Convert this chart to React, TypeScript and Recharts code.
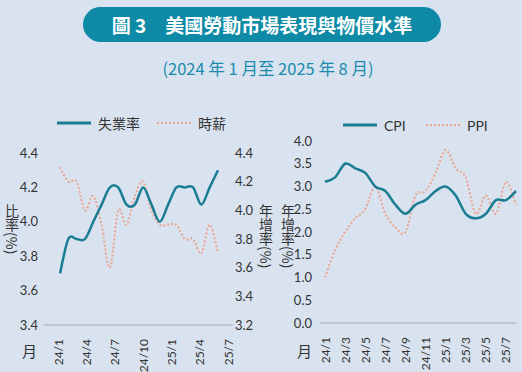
import React from 'react';
import { LineChart, Line, XAxis, YAxis } from 'recharts';

// 2024/1 ~ 2025/8, monthly
const months = [
  '24/1', '24/2', '24/3', '24/4', '24/5', '24/6', '24/7', '24/8', '24/9', '24/10',
  '24/11', '24/12', '25/1', '25/2', '25/3', '25/4', '25/5', '25/6', '25/7', '25/8',
];

// left panel (%)
const unemployment = [3.7, 3.9, 3.9, 3.9, 4.0, 4.1, 4.2, 4.2, 4.1, 4.1, 4.2, 4.1, 4.0, 4.1, 4.2, 4.2, 4.2, 4.1, 4.2, 4.3];
const hourlyWage = [4.3, 4.2, 4.2, 4.0, 4.1, 3.9, 3.6, 4.0, 3.9, 4.1, 4.2, 4.0, 3.9, 3.9, 3.9, 3.8, 3.8, 3.7, 3.9, 3.7];

// right panel, yoy (%)
const cpi = [3.1, 3.2, 3.5, 3.4, 3.3, 3.0, 2.9, 2.6, 2.4, 2.6, 2.7, 2.9, 3.0, 2.8, 2.4, 2.3, 2.4, 2.7, 2.7, 2.9];
const ppi = [1.0, 1.6, 2.0, 2.3, 2.5, 3.0, 2.4, 2.1, 2.0, 2.8, 2.9, 3.3, 3.8, 3.4, 3.2, 2.4, 2.8, 2.4, 3.1, 2.6];

const leftTicks = [3.4, 3.6, 3.8, 4.0, 4.2, 4.4];
const rightTicks = [3.2, 3.4, 3.6, 3.8, 4.0, 4.2, 4.4];
const cpiTicks = [0, 0.5, 1, 1.5, 2, 2.5, 3, 3.5, 4];

const BG = '#d9e3f0';
const TEAL = '#1b7d93';
const SALMON = '#eba48d';
const TXT = '#333';
const NUM_FONT = "Lato, 'Noto Sans CJK TC', sans-serif";
const CJK_FONT = "'Noto Sans CJK TC', sans-serif";

const labourData = months.map((m, i) => ({ m, u: unemployment[i], w: hourlyWage[i] }));
const priceData = months.map((m, i) => ({ m, cpi: cpi[i], ppi: ppi[i] }));

// Catmull-Rom style smoothing, closer to the spreadsheet "smoothed line" look
const smooth = (ctx: any) => {
  let pts: number[][] = [];
  return {
    areaStart() {},
    areaEnd() {},
    lineStart() {
      pts = [];
    },
    point(x: number, y: number) {
      pts.push([+x, +y]);
    },
    lineEnd() {
      if (!pts.length) return;
      ctx.moveTo(pts[0][0], pts[0][1]);
      for (let i = 0; i < pts.length - 1; i++) {
        const p0 = pts[i - 1] || pts[i];
        const p1 = pts[i];
        const p2 = pts[i + 1];
        const p3 = pts[i + 2] || p2;
        ctx.bezierCurveTo(
          p1[0] + (p2[0] - p0[0]) / 6,
          p1[1] + (p2[1] - p0[1]) / 6,
          p2[0] - (p3[0] - p1[0]) / 6,
          p2[1] - (p3[1] - p1[1]) / 6,
          p2[0],
          p2[1],
        );
      }
    },
  };
};

function RotTick(props: any) {
  const { x, y, payload, index, labelOf } = props;
  const label = labelOf ? labelOf(index) : payload.value;
  if (!label) return null;
  return (
    <text
      x={x}
      y={y + 6}
      transform={`rotate(-90 ${x} ${y + 6})`}
      textAnchor="end"
      dominantBaseline="central"
      fill={TXT}
      fontSize={12}
      fontFamily={NUM_FONT}
    >
      {label}
    </text>
  );
}

function VTitle({ text, left, top }: { text: string; left: number; top: number }) {
  return (
    <div
      style={{
        position: 'absolute',
        left,
        top,
        writingMode: 'vertical-rl',
        fontSize: 14,
        lineHeight: '16px',
        color: TXT,
        fontFamily: CJK_FONT,
      }}
    >
      {text}
    </div>
  );
}

function LegendItem({ left, top, label, dotted }: { left: number; top: number; label: string; dotted?: boolean }) {
  return (
    <div style={{ position: 'absolute', left, top, display: 'flex', alignItems: 'center', height: 20 }}>
      <svg width={36} height={6}>
        <line
          x1={1}
          x2={35}
          y1={3}
          y2={3}
          stroke={dotted ? SALMON : TEAL}
          strokeWidth={dotted ? 2 : 3}
          strokeDasharray={dotted ? '2 2' : undefined}
        />
      </svg>
      <span style={{ marginLeft: 6, fontSize: 14, color: TXT, fontFamily: /[A-Z]/.test(label) ? NUM_FONT : CJK_FONT }}>
        {label}
      </span>
    </div>
  );
}

export default function App() {
  const tickStyle = { fill: TXT, fontSize: 13, fontFamily: NUM_FONT };

  return (
    <div style={{ position: 'absolute', left: 0, top: 0, width: 522, height: 372, background: BG, overflow: 'hidden' }}>
      {/* title */}
      <div
        style={{
          position: 'absolute',
          left: 83,
          top: 7,
          width: 358,
          height: 35,
          borderRadius: 18,
          background: '#0e8aa6',
          color: '#fff',
          fontFamily: CJK_FONT,
          fontWeight: 700,
          fontSize: 19,
          lineHeight: '35px',
          textAlign: 'center',
          whiteSpace: 'pre',
        }}
      >
        {'圖 3　美國勞動市場表現與物價水準'}
      </div>
      <div
        style={{
          position: 'absolute',
          left: 0,
          width: 536,
          top: 56,
          textAlign: 'center',
          color: '#1a8bad',
          fontSize: 16.5,
          fontFamily: CJK_FONT,
        }}
      >
        (2024 年 1 月至 2025 年 8 月)
      </div>

      {/* left panel */}
      <LegendItem left={56} top={113} label="失業率" />
      <LegendItem left={156} top={113} label="時薪" dotted />
      <VTitle text="比率(%)" left={4} top={204} />
      <VTitle text="年增率(%)" left={258} top={204} />
      <div style={{ position: 'absolute', left: 22, top: 340, fontSize: 15, color: TXT, fontFamily: CJK_FONT }}>月</div>

      <div style={{ position: 'absolute', left: 0, top: 0 }}>
        <LineChart width={270} height={372} data={labourData} margin={{ top: 153, right: 0, left: 0, bottom: 0 }}>
          {/* the printed month labels sit one slot to the right of the plotted points */}
          <XAxis
            xAxisId="lab"
            dataKey="m"
            interval={0}
            padding={{ left: 4.7, right: 4.7 }}
            height={47}
            tickLine={false}
            axisLine={{ stroke: '#a9a9a9' }}
            tick={<RotTick labelOf={(i: number) => ((i - 1) % 3 === 0 ? months[i - 1] : '')} />}
          />
          <XAxis xAxisId="d" dataKey="m" hide height={0} padding={{ left: 16, right: 15 }} />
          <YAxis
            yAxisId="l"
            width={44}
            domain={[3.4, 4.4]}
            ticks={leftTicks}
            tickFormatter={(v) => Number(v).toFixed(1)}
            axisLine={false}
            tickLine={false}
            tickMargin={0}
            tick={tickStyle}
          />
          <YAxis
            yAxisId="r"
            orientation="right"
            width={37}
            domain={[3.2, 4.4]}
            ticks={rightTicks}
            tickFormatter={(v) => Number(v).toFixed(1)}
            axisLine={false}
            tickLine={false}
            tickSize={0}
            tickMargin={2}
            tick={{ ...tickStyle, textAnchor: 'start' }}
          />
          <Line
            xAxisId="d"
            yAxisId="r"
            type={smooth as any}
            dataKey="w"
            stroke={SALMON}
            strokeWidth={2}
            strokeDasharray="2 2"
            dot={false}
            isAnimationActive={false}
          />
          <Line
            xAxisId="d"
            yAxisId="l"
            type={smooth as any}
            dataKey="u"
            stroke={TEAL}
            strokeWidth={2.5}
            dot={false}
            isAnimationActive={false}
          />
        </LineChart>
      </div>

      {/* right panel */}
      <LegendItem left={342} top={115} label="CPI" />
      <LegendItem left={425} top={115} label="PPI" dotted />
      <VTitle text="年增率(%)" left={280} top={204} />
      <div style={{ position: 'absolute', left: 297, top: 340, fontSize: 15, color: TXT, fontFamily: CJK_FONT }}>月</div>

      <div style={{ position: 'absolute', left: 260, top: 0 }}>
        <LineChart width={262} height={372} data={priceData} margin={{ top: 141, right: 6, left: 0, bottom: 0 }}>
          <XAxis
            dataKey="m"
            interval={1}
            padding={{ left: 5, right: 0 }}
            height={49}
            tickLine={false}
            axisLine={{ stroke: '#a9a9a9' }}
            tick={<RotTick />}
          />
          <YAxis
            width={60}
            domain={[0, 4]}
            ticks={cpiTicks}
            tickFormatter={(v) => Number(v).toFixed(1)}
            axisLine={false}
            tickLine={false}
            tick={tickStyle}
          />
          <Line
            type={smooth as any}
            dataKey="ppi"
            stroke={SALMON}
            strokeWidth={2}
            strokeDasharray="2 2"
            dot={false}
            isAnimationActive={false}
          />
          <Line
            type={smooth as any}
            dataKey="cpi"
            stroke={TEAL}
            strokeWidth={2.5}
            dot={false}
            isAnimationActive={false}
          />
        </LineChart>
      </div>
    </div>
  );
}
